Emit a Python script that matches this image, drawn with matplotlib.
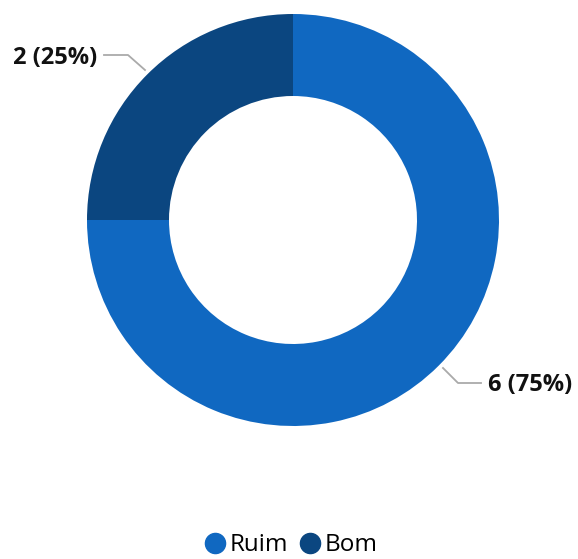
import matplotlib.pyplot as plt
from matplotlib.lines import Line2D

categories = ['Ruim', 'Bom']
values = [6, 2]
colors = ['#1068C1', '#0B4680']

W, H = 578, 559
fig = plt.figure(figsize=(W / 100, H / 100), dpi=100)
ax = fig.add_axes([0, 0, 1, 1])

cx, cy = 293, H - 220
r_out, r_in = 206, 124

ax.pie(values, colors=colors, startangle=90, counterclock=False,
       center=(cx, cy), radius=r_out, frame=True,
       wedgeprops=dict(width=r_out - r_in, linewidth=0))
ax.set_xlim(0, W)
ax.set_ylim(0, H)
ax.set_aspect('equal')
ax.axis('off')

total = sum(values)
font = ['Open Sans', 'DejaVu Sans']
# leader lines and labels (positions in pixels)
ax.plot([145, 128, 104], [H - 70, H - 55, H - 55], color='#AAAAAA', lw=1.3)
ax.text(97, H - 58, f'{values[1]} ({values[1] / total:.0%})', ha='right', va='center',
        fontsize=17, fontweight='bold', family=font, color='#111111')
ax.plot([443, 458, 481], [H - 368, H - 383, H - 383], color='#AAAAAA', lw=1.3)
ax.text(488, H - 385, f'{values[0]} ({values[0] / total:.0%})', ha='left', va='center',
        fontsize=17, fontweight='bold', family=font, color='#111111')

handles = [Line2D([], [], marker='o', ls='', markersize=14.5, color=c) for c in colors]
fig.legend(handles, categories, loc='lower center', bbox_to_anchor=(0.5, -0.036), ncol=2,
           frameon=False, handletextpad=0.0, columnspacing=0.3, handlelength=1.2,
           prop={'family': font, 'size': 17.5})

fig.savefig('out.png', dpi=100)
